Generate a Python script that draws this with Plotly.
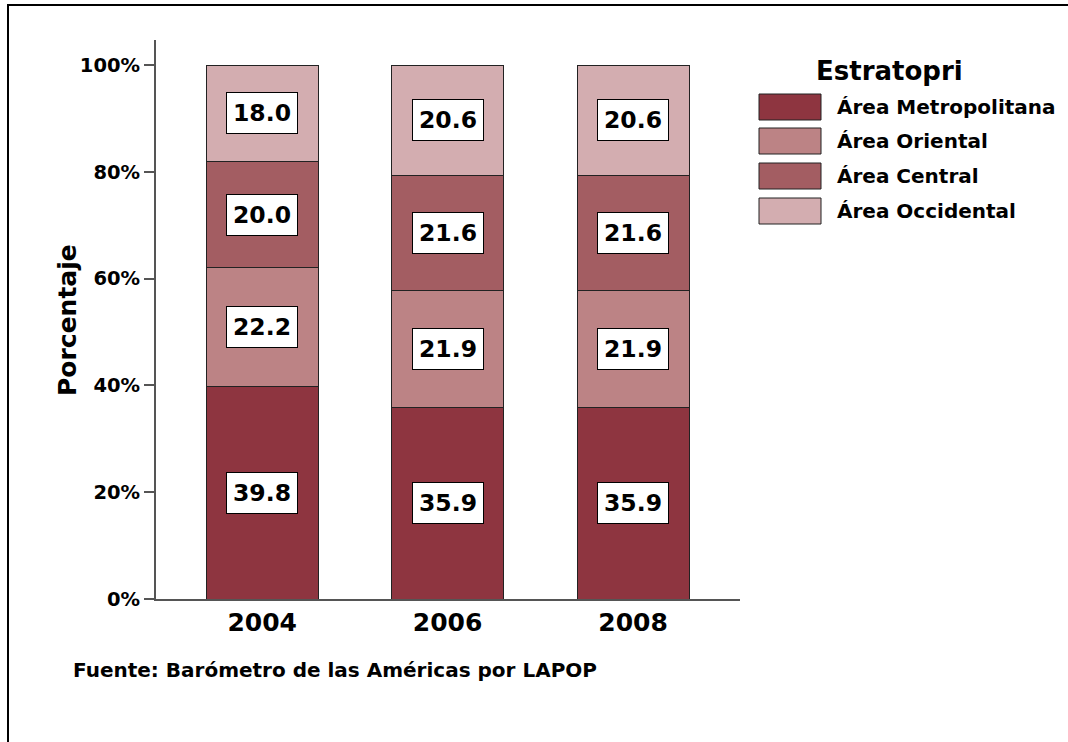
import plotly.graph_objects as go

years = ["2004", "2006", "2008"]
series_names = ["Área Metropolitana", "Área Oriental", "Área Central", "Área Occidental"]
metropolitana = [39.8, 35.9, 35.9]
oriental = [22.2, 21.9, 21.9]
central = [20.0, 21.6, 21.6]
occidental = [18.0, 20.6, 20.6]
colors = ["#8E3540", "#BC8385", "#A35D62", "#D3ADB0"]
y_ticks = [0, 20, 40, 60, 80, 100]
y_tick_labels = ["0%", "20%", "40%", "60%", "80%", "100%"]

all_series = [metropolitana, oriental, central, occidental]
WIDE = "DejaVu Sans, Verdana, sans-serif"

fig = go.Figure()
for name, vals, col in zip(series_names, all_series, colors):
    fig.add_trace(go.Bar(
        x=years, y=vals, name=name, marker=dict(color=col, line=dict(color="#222222", width=1)),
        width=0.604, showlegend=False, hoverinfo="skip"))

# helpers: page pixel -> paper coords of plot area (x 156..740, y 40..599)
def px(X):
    return (X - 156) / 584

def py(Y):
    return (599 - Y) / 559

annotations = []
for i, yr in enumerate(years):
    base = 0.0
    for vals in all_series:
        v = vals[i]
        annotations.append(dict(
            x=i, y=base + v / 2, xref="x", yref="y", text=f"<b>{v:.1f}</b>",
            showarrow=False, font=dict(family=WIDE, size=23.5, color="black"),
            bgcolor="white", bordercolor="black", borderwidth=1, borderpad=6))
        base += v

shapes = []
legend_y = [107, 141, 176, 211]
for name, col, ly in zip(series_names, colors, legend_y):
    shapes.append(dict(type="rect", xref="paper", yref="paper",
                       x0=px(759), x1=px(821), y0=py(ly + 13), y1=py(ly - 13),
                       fillcolor=col, line=dict(color="#222222", width=1)))
    annotations.append(dict(x=px(835), y=py(ly), xref="paper", yref="paper",
                            xanchor="left", yanchor="middle", showarrow=False,
                            text=f"<b>{name}</b>", font=dict(family=WIDE, size=20, color="black")))
annotations.append(dict(x=px(889), y=py(71), xref="paper", yref="paper",
                        xanchor="center", yanchor="middle", showarrow=False,
                        text="<b>Estratopri</b>", font=dict(family=WIDE, size=26, color="black")))
annotations.append(dict(x=px(71), y=py(670), xref="paper", yref="paper",
                        xanchor="left", yanchor="middle", showarrow=False,
                        text="<b>Fuente: Barómetro de las Américas por LAPOP</b>",
                        font=dict(family=WIDE, size=20, color="black")))
annotations.append(dict(x=px(67), y=py(320), xref="paper", yref="paper",
                        xanchor="center", yanchor="middle", showarrow=False, textangle=-90,
                        text="<b>Porcentaje</b>", font=dict(family=WIDE, size=25, color="black")))

shapes.append(dict(type="rect", xref="paper", yref="paper",
                   x0=px(8), x1=px(1100), y0=py(780), y1=py(5),
                   line=dict(color="black", width=2), fillcolor="rgba(0,0,0,0)", layer="below"))

fig.update_layout(
    barmode="stack",
    width=1068, height=742,
    margin=dict(l=156, r=328, t=40, b=143),
    paper_bgcolor="white", plot_bgcolor="white",
    font=dict(family=WIDE, color="black"),
    annotations=annotations, shapes=shapes,
    xaxis=dict(type="category", range=[-0.573, 2.577], showline=True, linecolor="#555555", linewidth=2,
               ticks="", tickfont=dict(family=WIDE, size=25, color="black"),
               tickprefix="<b>", ticksuffix="</b>", showgrid=False, zeroline=False),
    yaxis=dict(range=[0, 104.7], tickvals=y_ticks, ticktext=[f"<b>{t}</b>" for t in y_tick_labels],
               showline=True, linecolor="#555555", linewidth=2, ticks="outside", ticklen=10,
               tickcolor="#555555", tickwidth=2, tickfont=dict(family=WIDE, size=19.5, color="black"),
               showgrid=False, zeroline=False),
)
fig.write_html("out.html", config={"displayModeBar": False},
               post_script="document.body.style.margin='0';")
